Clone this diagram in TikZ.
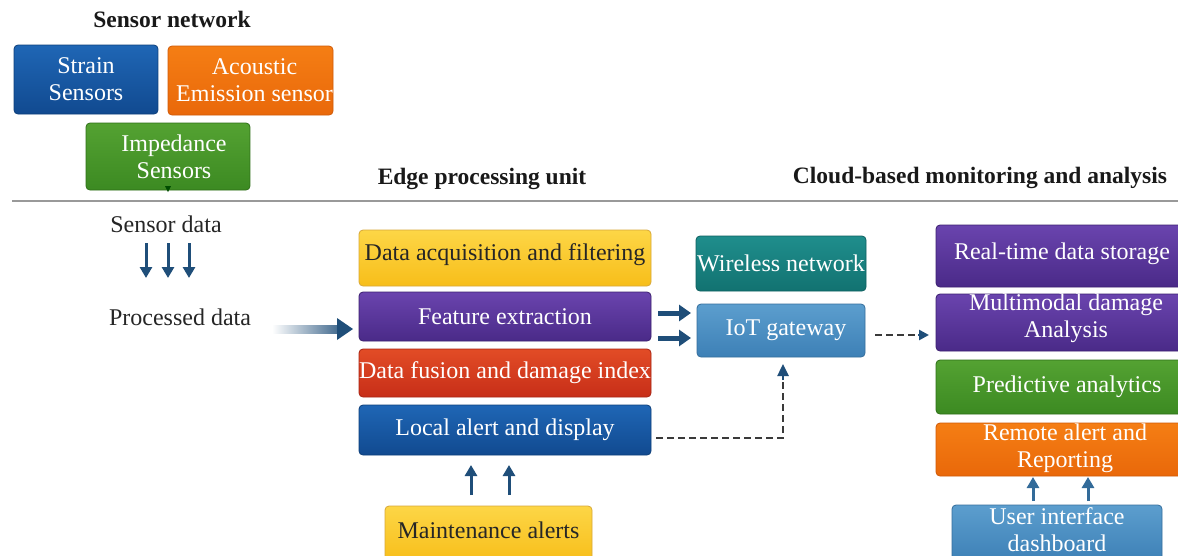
\documentclass[tikz,border=0pt]{standalone}
\usepackage{fontspec}
\setmainfont{Liberation Serif}
\usetikzlibrary{arrows.meta}
\newcommand{\fs}{\fontsize{24}{27}\selectfont}
\newcommand{\fsb}{\fontsize{23.5}{27}\selectfont\bfseries}
\definecolor{bluetop}{HTML}{1F66B5}\definecolor{bluebot}{HTML}{114A90}\definecolor{blueln}{HTML}{0D3F7A}
\definecolor{ortop}{HTML}{F57E14}\definecolor{orbot}{HTML}{E9680A}\definecolor{orln}{HTML}{D05A08}
\definecolor{grtop}{HTML}{54A232}\definecolor{grbot}{HTML}{3C8A22}\definecolor{grln}{HTML}{2F7018}
\definecolor{yetop}{HTML}{FDD646}\definecolor{yebot}{HTML}{F7BE1A}\definecolor{yeln}{HTML}{D8A838}
\definecolor{putop}{HTML}{6A44AE}\definecolor{pubot}{HTML}{4A2A88}\definecolor{puln}{HTML}{3C2070}
\definecolor{retop}{HTML}{E24C26}\definecolor{rebot}{HTML}{C72E18}\definecolor{reln}{HTML}{A82414}
\definecolor{tetop}{HTML}{1F8E8C}\definecolor{tebot}{HTML}{127271}\definecolor{teln}{HTML}{0E6060}
\definecolor{lbtop}{HTML}{5C9ECE}\definecolor{lbbot}{HTML}{3D80B6}\definecolor{lbln}{HTML}{356E9C}
\definecolor{arrc}{HTML}{1F4E79}
\definecolor{arrlight}{HTML}{336B99}
\definecolor{dashc}{HTML}{3A3A3A}
\tikzset{
  box/.style={rounded corners=4pt, inner sep=0pt, align=center, font=\fs, line width=0.8pt},
  bluebox/.style={box, top color=bluetop, bottom color=bluebot, draw=blueln, text=white},
  orbox/.style={box, top color=ortop, bottom color=orbot, draw=orln, text=white},
  grbox/.style={box, top color=grtop, bottom color=grbot, draw=grln, text=white},
  yebox/.style={box, top color=yetop, bottom color=yebot, draw=yeln, text=black!85},
  pubox/.style={box, top color=putop, bottom color=pubot, draw=puln, text=white},
  rebox/.style={box, top color=retop, bottom color=rebot, draw=reln, text=white},
  tebox/.style={box, top color=tetop, bottom color=tebot, draw=teln, text=white},
  lbbox/.style={box, top color=lbtop, bottom color=lbbot, draw=lbln, text=white},
  head/.style={font=\fsb, inner sep=0pt, text=black!90},
  lbl/.style={font=\fs, inner sep=0pt, text=black!85},
  arr/.style={draw=arrc, line width=3pt, -{Triangle[width=12pt,length=11pt]}},
  bigarr/.style={draw=arrc, line width=5pt, -{Triangle[width=16pt,length=12pt]}},
  dasharr/.style={draw=dashc, line width=2.5pt, dash pattern=on 7pt off 4pt},
}
\begin{document}
\begin{tikzpicture}[x=1pt,y=-1pt]
\clip (0,0) rectangle (1178,555);
\fill[white] (0,0) rectangle (1178,555);

% headers
\node[head] (hsn) at (172,19) {Sensor network};
\node[head] (hep) at (482,179) {Edge processing unit};
\node[head] (hcl) at (980,178) {Cloud-based monitoring and analysis};

% sensor boxes
\node[bluebox, minimum width=144pt, minimum height=69pt] (strain) at (86,79.5) {Strain\\Sensors};
\node[orbox, minimum width=165pt, minimum height=69pt] (acou) at (250.5,80.5) {\hspace*{8pt}Acoustic\\\hspace*{8pt}Emission sensor};
\node[grbox, minimum width=164pt, minimum height=67pt] (imp) at (168,156.5) {\hspace*{12pt}Impedance\\\hspace*{12pt}Sensors};
\fill[green!30!black] (165,186) -- (171,186) -- (168,192) -- cycle;

% separator
\draw[gray!80, line width=2pt] (12,201) -- (1178,201);

% left labels
\node[lbl] (sd) at (166,224) {Sensor data};
\node[lbl] (pd) at (180,317) {Processed data};
\foreach \x/\n in {146/a,168/b,189/c}{
  \coordinate (sd\n) at (\x,243);
  \coordinate (pd\n) at (\x,278);
  \draw[arr] (sd\n) -- (pd\n);
}

% edge processing boxes
\node[yebox, minimum width=292pt, minimum height=56pt, text depth=11pt] (dacq) at (505,258) {Data acquisition and filtering};
\node[pubox, minimum width=292pt, minimum height=49pt] (feat) at (505,316.5) {Feature extraction};
\node[rebox, minimum width=292pt, minimum height=48pt] (fus) at (505,373) {Data fusion and damage index};
\node[bluebox, minimum width=292pt, minimum height=50pt] (loc) at (505,430) {Local alert and display};
\node[yebox, minimum width=207pt, minimum height=56pt, text depth=7pt] (maint) at (488.5,534) {Maintenance alerts};

% gradient arrow into feature extraction
\coordinate (ga) at (272,329);
\shade[left color=white, right color=arrc!85] (272,325) rectangle (340,333);
\fill[arrc] (337,318) -- (353,329) -- (337,340) -- cycle;

% network boxes
\node[tebox, minimum width=170pt, minimum height=55pt] (wir) at (781,263.5) {Wireless network};
\node[lbbox, minimum width=168pt, minimum height=53pt] (iot) at (781,330.5) {\hspace*{10pt}IoT gateway};

\draw[bigarr] (658,313) -- (691,313);
\draw[bigarr] (658,338) -- (691,338);

% dashed from local alert to IoT gateway
\coordinate (dk) at (783,438);
\draw[dasharr] ([xshift=5pt,yshift=-8pt]loc.east) -- (dk) -- (783,378);
\draw[arrc, line width=2.5pt, -{Triangle[width=11pt,length=12pt]}] (783,380) -- (783,364);

% cloud boxes
\node[pubox, minimum width=246pt, minimum height=62pt, text depth=9pt] (rt) at (1059,256) {\hspace*{6pt}Real-time data storage};
\node[pubox, minimum width=246pt, minimum height=57pt, text depth=13pt] (mm) at (1059,322.5) {\hspace*{14pt}Multimodal damage\\\hspace*{14pt}Analysis};
\node[grbox, minimum width=246pt, minimum height=54pt] (pa) at (1059,387) {\hspace*{16pt}Predictive analytics};
\node[orbox, minimum width=246pt, minimum height=53pt, text depth=7pt] (ra) at (1059,449.5) {\hspace*{12pt}Remote alert and\\\hspace*{12pt}Reporting};
\node[lbbox, minimum width=210pt, minimum height=57pt, text depth=7pt] (ui) at (1057,533.5) {User interface\\dashboard};

% dashed IoT -> multimodal
\draw[dasharr] ([xshift=10pt,yshift=-4.5pt]iot.east) -- (920,335);
\draw[arrc, line width=2.5pt, -{Triangle[width=10pt,length=10pt]}] (918,335) -- (929,335);

% maintenance -> local alert
\foreach \x in {471,509}{
  \draw[arr] (\x,495) -- (\x,465);
}
% UI -> remote alert
\foreach \x in {1033,1088}{
  \draw[arr, draw=arrlight] (\x,501) -- (\x,477);
}
\end{tikzpicture}
\end{document}
